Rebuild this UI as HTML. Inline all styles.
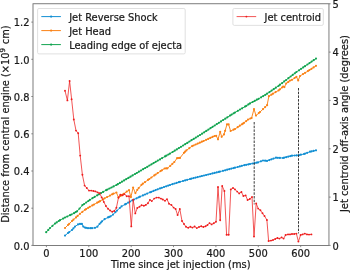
<!DOCTYPE html>
<html><head><meta charset="utf-8"><title>Jet plot</title><style>html,body{margin:0;padding:0;background:#fff}svg{display:block}</style></head><body>
<svg width="350" height="270" viewBox="0 0 350 270" font-family="'DejaVu Sans', 'Liberation Sans', sans-serif" font-size="9.9" fill="#1a1a1a">
<style>text{stroke:#1a1a1a;stroke-width:0.22px;stroke-linejoin:round}</style>
<rect width="350" height="270" fill="#fff"/>
<polyline fill="none" stroke="#128fd3" stroke-width="0.95" stroke-linejoin="round" points="65.0,235.6 68.0,233.0 72.0,230.0 75.0,226.6 78.0,224.4 80.0,223.9 81.9,223.9 83.3,226.6 85.0,227.6 88.0,228.2 92.0,228.2 95.0,227.8 97.4,226.7 99.5,224.0 102.0,221.3 104.6,219.2 108.0,217.4 110.6,216.3 113.0,214.6 115.4,212.2 117.0,210.6 121.5,206.4 125.0,204.4 130.0,201.6 134.0,199.5 140.0,196.7 150.0,192.3 160.0,188.4 170.0,185.0 180.0,181.8 190.0,179.0 200.0,176.5 220.0,171.6 235.0,167.7 244.3,165.2 250.0,164.0 258.0,162.4 263.0,160.5 267.0,160.9 276.0,157.7 283.0,158.0 292.0,155.7 299.0,155.2 304.0,154.0 310.0,151.7 316.0,150.3"/>
<g fill="#128fd3"><circle cx="65.0" cy="235.6" r="1.08"/><circle cx="68.0" cy="233.0" r="1.08"/><circle cx="69.2" cy="232.1" r="1.08"/><circle cx="72.0" cy="230.0" r="1.08"/><circle cx="73.4" cy="228.4" r="1.08"/><circle cx="75.0" cy="226.6" r="1.08"/><circle cx="78.0" cy="224.4" r="1.08"/><circle cx="80.0" cy="223.9" r="1.08"/><circle cx="81.9" cy="223.9" r="1.08"/><circle cx="83.3" cy="226.6" r="1.08"/><circle cx="85.0" cy="227.6" r="1.08"/><circle cx="86.1" cy="227.8" r="1.08"/><circle cx="88.0" cy="228.2" r="1.08"/><circle cx="90.3" cy="228.2" r="1.08"/><circle cx="92.0" cy="228.2" r="1.08"/><circle cx="95.0" cy="227.8" r="1.08"/><circle cx="97.4" cy="226.7" r="1.08"/><circle cx="99.5" cy="224.0" r="1.08"/><circle cx="100.8" cy="222.6" r="1.08"/><circle cx="102.0" cy="221.3" r="1.08"/><circle cx="104.6" cy="219.2" r="1.08"/><circle cx="108.0" cy="217.4" r="1.08"/><circle cx="109.2" cy="216.9" r="1.08"/><circle cx="110.6" cy="216.3" r="1.08"/><circle cx="113.0" cy="214.6" r="1.08"/><circle cx="115.4" cy="212.2" r="1.08"/><circle cx="117.0" cy="210.6" r="1.08"/><circle cx="119.8" cy="208.0" r="1.08"/><circle cx="121.5" cy="206.4" r="1.08"/><circle cx="125.0" cy="204.4" r="1.08"/><circle cx="126.1" cy="203.8" r="1.08"/><circle cx="128.2" cy="202.6" r="1.08"/><circle cx="130.0" cy="201.6" r="1.08"/><circle cx="132.4" cy="200.3" r="1.08"/><circle cx="134.0" cy="199.5" r="1.08"/><circle cx="136.6" cy="198.3" r="1.08"/><circle cx="138.7" cy="197.3" r="1.08"/><circle cx="140.0" cy="196.7" r="1.08"/><circle cx="142.9" cy="195.4" r="1.08"/><circle cx="145.0" cy="194.5" r="1.08"/><circle cx="147.2" cy="193.6" r="1.08"/><circle cx="150.0" cy="192.3" r="1.08"/><circle cx="151.4" cy="191.8" r="1.08"/><circle cx="153.5" cy="190.9" r="1.08"/><circle cx="155.6" cy="190.1" r="1.08"/><circle cx="157.7" cy="189.3" r="1.08"/><circle cx="160.0" cy="188.4" r="1.08"/><circle cx="161.9" cy="187.8" r="1.08"/><circle cx="164.0" cy="187.0" r="1.08"/><circle cx="166.1" cy="186.3" r="1.08"/><circle cx="168.2" cy="185.6" r="1.08"/><circle cx="170.0" cy="185.0" r="1.08"/><circle cx="172.4" cy="184.2" r="1.08"/><circle cx="174.5" cy="183.5" r="1.08"/><circle cx="176.6" cy="182.9" r="1.08"/><circle cx="178.8" cy="182.2" r="1.08"/><circle cx="180.0" cy="181.8" r="1.08"/><circle cx="183.0" cy="181.0" r="1.08"/><circle cx="185.1" cy="180.4" r="1.08"/><circle cx="187.2" cy="179.8" r="1.08"/><circle cx="190.0" cy="179.0" r="1.08"/><circle cx="191.4" cy="178.7" r="1.08"/><circle cx="193.5" cy="178.1" r="1.08"/><circle cx="195.6" cy="177.6" r="1.08"/><circle cx="197.7" cy="177.1" r="1.08"/><circle cx="200.0" cy="176.5" r="1.08"/><circle cx="201.9" cy="176.0" r="1.08"/><circle cx="204.0" cy="175.5" r="1.08"/><circle cx="206.1" cy="175.0" r="1.08"/><circle cx="208.2" cy="174.5" r="1.08"/><circle cx="210.3" cy="174.0" r="1.08"/><circle cx="212.5" cy="173.4" r="1.08"/><circle cx="214.6" cy="172.9" r="1.08"/><circle cx="216.7" cy="172.4" r="1.08"/><circle cx="218.8" cy="171.9" r="1.08"/><circle cx="220.0" cy="171.6" r="1.08"/><circle cx="223.0" cy="170.8" r="1.08"/><circle cx="225.1" cy="170.3" r="1.08"/><circle cx="227.2" cy="169.7" r="1.08"/><circle cx="229.3" cy="169.2" r="1.08"/><circle cx="231.4" cy="168.6" r="1.08"/><circle cx="233.5" cy="168.1" r="1.08"/><circle cx="235.0" cy="167.7" r="1.08"/><circle cx="237.7" cy="167.0" r="1.08"/><circle cx="239.8" cy="166.4" r="1.08"/><circle cx="241.9" cy="165.8" r="1.08"/><circle cx="244.3" cy="165.2" r="1.08"/><circle cx="246.2" cy="164.8" r="1.08"/><circle cx="248.3" cy="164.4" r="1.08"/><circle cx="250.0" cy="164.0" r="1.08"/><circle cx="252.5" cy="163.5" r="1.08"/><circle cx="254.6" cy="163.1" r="1.08"/><circle cx="256.7" cy="162.7" r="1.08"/><circle cx="258.0" cy="162.4" r="1.08"/><circle cx="260.9" cy="161.3" r="1.08"/><circle cx="263.0" cy="160.5" r="1.08"/><circle cx="265.1" cy="160.7" r="1.08"/><circle cx="267.0" cy="160.9" r="1.08"/><circle cx="269.3" cy="160.1" r="1.08"/><circle cx="271.4" cy="159.3" r="1.08"/><circle cx="273.5" cy="158.6" r="1.08"/><circle cx="276.0" cy="157.7" r="1.08"/><circle cx="277.8" cy="157.8" r="1.08"/><circle cx="279.9" cy="157.9" r="1.08"/><circle cx="283.0" cy="158.0" r="1.08"/><circle cx="284.1" cy="157.7" r="1.08"/><circle cx="286.2" cy="157.2" r="1.08"/><circle cx="288.3" cy="156.6" r="1.08"/><circle cx="290.4" cy="156.1" r="1.08"/><circle cx="292.0" cy="155.7" r="1.08"/><circle cx="294.6" cy="155.5" r="1.08"/><circle cx="296.7" cy="155.4" r="1.08"/><circle cx="299.0" cy="155.2" r="1.08"/><circle cx="300.9" cy="154.7" r="1.08"/><circle cx="304.0" cy="154.0" r="1.08"/><circle cx="305.1" cy="153.6" r="1.08"/><circle cx="307.2" cy="152.8" r="1.08"/><circle cx="310.0" cy="151.7" r="1.08"/><circle cx="311.5" cy="151.4" r="1.08"/><circle cx="313.6" cy="150.9" r="1.08"/><circle cx="316.0" cy="150.3" r="1.08"/></g>
<polyline fill="none" stroke="#fa8216" stroke-width="0.95" stroke-linejoin="round" points="65.0,228.0 68.0,225.0 72.0,221.0 76.0,217.4 80.0,213.8 82.4,211.8 85.0,209.8 89.8,206.8 94.0,204.5 97.2,202.7 100.0,201.2 104.6,198.3 110.0,195.6 112.1,194.3 116.4,192.5 118.5,197.6 120.6,196.0 123.5,193.9 126.7,191.6 129.0,190.2 130.9,197.1 133.1,187.5 135.4,193.1 137.3,189.8 141.5,184.8 148.0,179.9 154.3,175.4 160.6,171.1 164.6,168.5 167.4,168.3 170.3,165.8 174.3,162.0 177.1,158.2 180.0,157.9 184.0,152.8 186.4,150.4 192.1,146.1 203.6,141.0 214.5,136.0 216.2,135.8 218.0,139.3 220.2,131.8 221.7,136.8 224.0,134.4 227.0,124.4 228.6,124.4 230.6,131.0 235.0,129.0 243.0,123.6 248.0,119.6 251.6,118.0 254.0,109.0 256.0,115.6 260.0,112.0 267.1,105.2 268.9,96.2 273.0,93.7 278.6,90.4 283.1,86.5 284.4,87.1 286.2,83.5 290.0,80.6 292.0,79.8 296.4,76.8 298.2,80.4 300.0,76.0 307.9,71.1 316.0,65.8"/>
<g fill="#fa8216"><circle cx="65.0" cy="228.0" r="1.08"/><circle cx="68.0" cy="225.0" r="1.08"/><circle cx="69.2" cy="223.8" r="1.08"/><circle cx="72.0" cy="221.0" r="1.08"/><circle cx="73.4" cy="219.7" r="1.08"/><circle cx="76.0" cy="217.4" r="1.08"/><circle cx="77.6" cy="215.9" r="1.08"/><circle cx="80.0" cy="213.8" r="1.08"/><circle cx="82.4" cy="211.8" r="1.08"/><circle cx="85.0" cy="209.8" r="1.08"/><circle cx="86.1" cy="209.1" r="1.08"/><circle cx="88.2" cy="207.8" r="1.08"/><circle cx="89.8" cy="206.8" r="1.08"/><circle cx="92.4" cy="205.4" r="1.08"/><circle cx="94.0" cy="204.5" r="1.08"/><circle cx="97.2" cy="202.7" r="1.08"/><circle cx="98.7" cy="201.9" r="1.08"/><circle cx="100.0" cy="201.2" r="1.08"/><circle cx="102.9" cy="199.4" r="1.08"/><circle cx="104.6" cy="198.3" r="1.08"/><circle cx="107.1" cy="197.0" r="1.08"/><circle cx="110.0" cy="195.6" r="1.08"/><circle cx="112.1" cy="194.3" r="1.08"/><circle cx="113.4" cy="193.7" r="1.08"/><circle cx="116.4" cy="192.5" r="1.08"/><circle cx="118.5" cy="197.6" r="1.08"/><circle cx="120.6" cy="196.0" r="1.08"/><circle cx="121.9" cy="195.1" r="1.08"/><circle cx="123.5" cy="193.9" r="1.08"/><circle cx="126.7" cy="191.6" r="1.08"/><circle cx="129.0" cy="190.2" r="1.08"/><circle cx="130.9" cy="197.1" r="1.08"/><circle cx="133.1" cy="187.5" r="1.08"/><circle cx="135.4" cy="193.1" r="1.08"/><circle cx="137.3" cy="189.8" r="1.08"/><circle cx="138.7" cy="188.1" r="1.08"/><circle cx="141.5" cy="184.8" r="1.08"/><circle cx="142.9" cy="183.7" r="1.08"/><circle cx="145.0" cy="182.1" r="1.08"/><circle cx="148.0" cy="179.9" r="1.08"/><circle cx="149.3" cy="179.0" r="1.08"/><circle cx="151.4" cy="177.5" r="1.08"/><circle cx="154.3" cy="175.4" r="1.08"/><circle cx="155.6" cy="174.5" r="1.08"/><circle cx="157.7" cy="173.1" r="1.08"/><circle cx="160.6" cy="171.1" r="1.08"/><circle cx="161.9" cy="170.3" r="1.08"/><circle cx="164.6" cy="168.5" r="1.08"/><circle cx="166.1" cy="168.4" r="1.08"/><circle cx="167.4" cy="168.3" r="1.08"/><circle cx="170.3" cy="165.8" r="1.08"/><circle cx="172.4" cy="163.8" r="1.08"/><circle cx="174.3" cy="162.0" r="1.08"/><circle cx="177.1" cy="158.2" r="1.08"/><circle cx="178.8" cy="158.0" r="1.08"/><circle cx="180.0" cy="157.9" r="1.08"/><circle cx="184.0" cy="152.8" r="1.08"/><circle cx="185.1" cy="151.7" r="1.08"/><circle cx="186.4" cy="150.4" r="1.08"/><circle cx="189.3" cy="148.2" r="1.08"/><circle cx="192.1" cy="146.1" r="1.08"/><circle cx="193.5" cy="145.5" r="1.08"/><circle cx="195.6" cy="144.5" r="1.08"/><circle cx="197.7" cy="143.6" r="1.08"/><circle cx="199.8" cy="142.7" r="1.08"/><circle cx="201.9" cy="141.7" r="1.08"/><circle cx="203.6" cy="141.0" r="1.08"/><circle cx="206.1" cy="139.8" r="1.08"/><circle cx="208.2" cy="138.9" r="1.08"/><circle cx="210.3" cy="137.9" r="1.08"/><circle cx="212.5" cy="136.9" r="1.08"/><circle cx="214.5" cy="136.0" r="1.08"/><circle cx="216.2" cy="135.8" r="1.08"/><circle cx="218.0" cy="139.3" r="1.08"/><circle cx="220.2" cy="131.8" r="1.08"/><circle cx="221.7" cy="136.8" r="1.08"/><circle cx="224.0" cy="134.4" r="1.08"/><circle cx="225.1" cy="130.8" r="1.08"/><circle cx="227.0" cy="124.4" r="1.08"/><circle cx="228.6" cy="124.4" r="1.08"/><circle cx="230.6" cy="131.0" r="1.08"/><circle cx="233.5" cy="129.7" r="1.08"/><circle cx="235.0" cy="129.0" r="1.08"/><circle cx="237.7" cy="127.2" r="1.08"/><circle cx="239.8" cy="125.7" r="1.08"/><circle cx="241.9" cy="124.3" r="1.08"/><circle cx="243.0" cy="123.6" r="1.08"/><circle cx="244.1" cy="122.8" r="1.08"/><circle cx="246.2" cy="121.1" r="1.08"/><circle cx="248.0" cy="119.6" r="1.08"/><circle cx="250.4" cy="118.5" r="1.08"/><circle cx="251.6" cy="118.0" r="1.08"/><circle cx="254.0" cy="109.0" r="1.08"/><circle cx="256.0" cy="115.6" r="1.08"/><circle cx="258.8" cy="113.1" r="1.08"/><circle cx="260.0" cy="112.0" r="1.08"/><circle cx="263.0" cy="109.1" r="1.08"/><circle cx="265.1" cy="107.1" r="1.08"/><circle cx="267.1" cy="105.2" r="1.08"/><circle cx="268.9" cy="96.2" r="1.08"/><circle cx="271.4" cy="94.7" r="1.08"/><circle cx="273.0" cy="93.7" r="1.08"/><circle cx="275.6" cy="92.1" r="1.08"/><circle cx="278.6" cy="90.4" r="1.08"/><circle cx="279.9" cy="89.3" r="1.08"/><circle cx="282.0" cy="87.5" r="1.08"/><circle cx="283.1" cy="86.5" r="1.08"/><circle cx="284.4" cy="87.1" r="1.08"/><circle cx="286.2" cy="83.5" r="1.08"/><circle cx="288.3" cy="81.9" r="1.08"/><circle cx="290.0" cy="80.6" r="1.08"/><circle cx="292.0" cy="79.8" r="1.08"/><circle cx="294.6" cy="78.0" r="1.08"/><circle cx="296.4" cy="76.8" r="1.08"/><circle cx="298.2" cy="80.4" r="1.08"/><circle cx="300.0" cy="76.0" r="1.08"/><circle cx="303.0" cy="74.1" r="1.08"/><circle cx="305.1" cy="72.8" r="1.08"/><circle cx="307.9" cy="71.1" r="1.08"/><circle cx="309.4" cy="70.1" r="1.08"/><circle cx="311.5" cy="68.8" r="1.08"/><circle cx="313.6" cy="67.4" r="1.08"/><circle cx="316.0" cy="65.8" r="1.08"/></g>
<polyline fill="none" stroke="#12a450" stroke-width="0.95" stroke-linejoin="round" points="46.2,232.2 50.0,228.0 55.0,223.6 60.0,220.2 65.0,217.5 70.0,215.2 74.0,213.2 77.0,211.3 79.5,208.6 82.4,205.2 89.8,199.9 97.2,195.3 106.1,190.2 116.4,185.0 135.0,174.0 165.0,156.4 170.0,153.6 200.0,135.0 230.0,115.6 235.0,112.5 240.0,109.5 245.0,106.6 250.0,103.4 258.6,98.8 267.1,93.7 278.6,85.8 286.1,80.0 296.4,72.0 305.0,66.2 316.0,58.6"/>
<g fill="#12a450"><circle cx="46.2" cy="232.2" r="1.08"/><circle cx="48.3" cy="229.9" r="1.08"/><circle cx="50.0" cy="228.0" r="1.08"/><circle cx="52.5" cy="225.8" r="1.08"/><circle cx="55.0" cy="223.6" r="1.08"/><circle cx="56.7" cy="222.4" r="1.08"/><circle cx="58.8" cy="221.0" r="1.08"/><circle cx="60.0" cy="220.2" r="1.08"/><circle cx="63.1" cy="218.6" r="1.08"/><circle cx="65.0" cy="217.5" r="1.08"/><circle cx="67.3" cy="216.5" r="1.08"/><circle cx="70.0" cy="215.2" r="1.08"/><circle cx="71.5" cy="214.5" r="1.08"/><circle cx="74.0" cy="213.2" r="1.08"/><circle cx="75.7" cy="212.1" r="1.08"/><circle cx="77.0" cy="211.3" r="1.08"/><circle cx="79.5" cy="208.6" r="1.08"/><circle cx="82.4" cy="205.2" r="1.08"/><circle cx="84.1" cy="204.0" r="1.08"/><circle cx="86.2" cy="202.5" r="1.08"/><circle cx="88.3" cy="201.0" r="1.08"/><circle cx="89.8" cy="199.9" r="1.08"/><circle cx="92.5" cy="198.2" r="1.08"/><circle cx="94.6" cy="196.9" r="1.08"/><circle cx="97.2" cy="195.3" r="1.08"/><circle cx="98.9" cy="194.3" r="1.08"/><circle cx="101.0" cy="193.1" r="1.08"/><circle cx="103.1" cy="191.9" r="1.08"/><circle cx="106.1" cy="190.2" r="1.08"/><circle cx="107.3" cy="189.6" r="1.08"/><circle cx="109.4" cy="188.5" r="1.08"/><circle cx="111.5" cy="187.5" r="1.08"/><circle cx="113.6" cy="186.4" r="1.08"/><circle cx="116.4" cy="185.0" r="1.08"/><circle cx="117.8" cy="184.2" r="1.08"/><circle cx="119.9" cy="182.9" r="1.08"/><circle cx="122.0" cy="181.7" r="1.08"/><circle cx="124.1" cy="180.4" r="1.08"/><circle cx="126.2" cy="179.2" r="1.08"/><circle cx="128.4" cy="177.9" r="1.08"/><circle cx="130.5" cy="176.7" r="1.08"/><circle cx="132.6" cy="175.4" r="1.08"/><circle cx="135.0" cy="174.0" r="1.08"/><circle cx="136.8" cy="173.0" r="1.08"/><circle cx="138.9" cy="171.7" r="1.08"/><circle cx="141.0" cy="170.5" r="1.08"/><circle cx="143.1" cy="169.2" r="1.08"/><circle cx="145.2" cy="168.0" r="1.08"/><circle cx="147.3" cy="166.8" r="1.08"/><circle cx="149.4" cy="165.5" r="1.08"/><circle cx="151.5" cy="164.3" r="1.08"/><circle cx="153.6" cy="163.1" r="1.08"/><circle cx="155.7" cy="161.8" r="1.08"/><circle cx="157.8" cy="160.6" r="1.08"/><circle cx="160.0" cy="159.4" r="1.08"/><circle cx="162.1" cy="158.1" r="1.08"/><circle cx="165.0" cy="156.4" r="1.08"/><circle cx="166.3" cy="155.7" r="1.08"/><circle cx="168.4" cy="154.5" r="1.08"/><circle cx="170.0" cy="153.6" r="1.08"/><circle cx="172.6" cy="152.0" r="1.08"/><circle cx="174.7" cy="150.7" r="1.08"/><circle cx="176.8" cy="149.4" r="1.08"/><circle cx="178.9" cy="148.1" r="1.08"/><circle cx="181.0" cy="146.8" r="1.08"/><circle cx="183.1" cy="145.5" r="1.08"/><circle cx="185.2" cy="144.2" r="1.08"/><circle cx="187.3" cy="142.9" r="1.08"/><circle cx="189.4" cy="141.5" r="1.08"/><circle cx="191.5" cy="140.2" r="1.08"/><circle cx="193.7" cy="138.9" r="1.08"/><circle cx="195.8" cy="137.6" r="1.08"/><circle cx="197.9" cy="136.3" r="1.08"/><circle cx="200.0" cy="135.0" r="1.08"/><circle cx="202.1" cy="133.7" r="1.08"/><circle cx="204.2" cy="132.3" r="1.08"/><circle cx="206.3" cy="130.9" r="1.08"/><circle cx="208.4" cy="129.6" r="1.08"/><circle cx="210.5" cy="128.2" r="1.08"/><circle cx="212.6" cy="126.8" r="1.08"/><circle cx="214.7" cy="125.5" r="1.08"/><circle cx="216.8" cy="124.1" r="1.08"/><circle cx="218.9" cy="122.8" r="1.08"/><circle cx="221.0" cy="121.4" r="1.08"/><circle cx="223.1" cy="120.0" r="1.08"/><circle cx="225.3" cy="118.7" r="1.08"/><circle cx="227.4" cy="117.3" r="1.08"/><circle cx="230.0" cy="115.6" r="1.08"/><circle cx="231.6" cy="114.6" r="1.08"/><circle cx="233.7" cy="113.3" r="1.08"/><circle cx="235.0" cy="112.5" r="1.08"/><circle cx="237.9" cy="110.8" r="1.08"/><circle cx="240.0" cy="109.5" r="1.08"/><circle cx="242.1" cy="108.3" r="1.08"/><circle cx="245.0" cy="106.6" r="1.08"/><circle cx="246.3" cy="105.8" r="1.08"/><circle cx="248.4" cy="104.4" r="1.08"/><circle cx="250.0" cy="103.4" r="1.08"/><circle cx="252.6" cy="102.0" r="1.08"/><circle cx="254.7" cy="100.9" r="1.08"/><circle cx="256.8" cy="99.7" r="1.08"/><circle cx="258.6" cy="98.8" r="1.08"/><circle cx="261.1" cy="97.3" r="1.08"/><circle cx="263.2" cy="96.1" r="1.08"/><circle cx="265.3" cy="94.8" r="1.08"/><circle cx="267.1" cy="93.7" r="1.08"/><circle cx="269.5" cy="92.1" r="1.08"/><circle cx="271.6" cy="90.6" r="1.08"/><circle cx="273.7" cy="89.2" r="1.08"/><circle cx="275.8" cy="87.7" r="1.08"/><circle cx="278.6" cy="85.8" r="1.08"/><circle cx="280.0" cy="84.7" r="1.08"/><circle cx="282.1" cy="83.1" r="1.08"/><circle cx="284.2" cy="81.4" r="1.08"/><circle cx="286.1" cy="80.0" r="1.08"/><circle cx="288.4" cy="78.2" r="1.08"/><circle cx="290.6" cy="76.5" r="1.08"/><circle cx="292.7" cy="74.9" r="1.08"/><circle cx="294.8" cy="73.3" r="1.08"/><circle cx="296.4" cy="72.0" r="1.08"/><circle cx="299.0" cy="70.3" r="1.08"/><circle cx="301.1" cy="68.8" r="1.08"/><circle cx="303.2" cy="67.4" r="1.08"/><circle cx="305.0" cy="66.2" r="1.08"/><circle cx="307.4" cy="64.5" r="1.08"/><circle cx="309.5" cy="63.1" r="1.08"/><circle cx="311.6" cy="61.6" r="1.08"/><circle cx="313.7" cy="60.2" r="1.08"/><circle cx="316.0" cy="58.6" r="1.08"/></g>
<g stroke="#222" stroke-width="0.9" stroke-dasharray="2.5 1.2"><line x1="254.2" y1="122" x2="254.2" y2="204.4"/><line x1="298.5" y1="88" x2="298.5" y2="233.4"/></g>
<polyline fill="none" stroke="#ee1c1c" stroke-width="0.75" stroke-linejoin="round" points="65.0,90.8 67.4,100.4 69.6,81.0 71.6,99.2 73.8,119.5 76.0,130.6 78.2,133.2 80.2,155.6 82.4,174.8 84.6,185.6 86.8,188.0 89.0,190.6 91.2,190.6 93.4,191.0 95.4,191.4 97.6,192.4 99.6,193.2 101.7,197.4 103.8,201.9 105.9,206.0 108.0,208.8 110.1,210.5 112.2,211.7 114.3,211.0 116.4,207.8 118.5,197.5 120.3,194.8 122.6,195.3 124.5,194.1 126.7,196.2 129.0,196.2 131.3,226.4 133.2,199.6 135.3,213.4 137.3,208.0 139.5,206.7 141.6,205.2 143.9,205.8 145.8,204.9 147.9,203.3 149.9,199.9 151.8,201.1 154.2,198.6 156.5,197.6 158.8,197.6 160.9,198.6 162.8,199.5 165.0,200.8 167.0,199.2 169.0,203.7 171.4,205.0 173.6,207.6 175.6,209.0 177.6,215.0 179.8,209.0 182.0,221.0 184.0,224.0 186.0,226.8 188.2,227.8 190.4,226.8 192.4,227.6 194.6,226.5 196.8,228.1 199.0,227.0 201.2,226.2 203.4,227.0 205.6,226.2 207.5,225.0 209.5,223.1 211.6,224.4 213.8,223.2 216.0,221.8 218.0,187.0 220.2,220.3 222.2,186.0 224.4,191.0 226.6,234.8 228.7,234.8 230.8,189.4 233.0,188.0 235.0,189.4 237.2,191.6 239.2,193.4 241.4,192.0 243.4,196.0 245.6,195.4 247.6,200.0 249.8,199.0 252.0,197.0 254.0,236.6 256.2,203.4 258.2,208.6 260.4,210.2 262.5,213.3 264.5,216.0 266.9,220.0 268.6,241.0 271.0,240.6 273.0,240.0 275.2,239.0 277.4,238.0 279.4,238.6 281.6,237.4 283.6,238.6 285.6,235.0 288.0,234.4 290.0,234.4 292.0,234.0 294.2,234.0 296.4,233.6 298.4,241.6 300.6,235.0 302.6,234.4 304.8,233.6 307.0,234.4 309.0,234.6 311.4,234.4"/>
<g fill="#ee1c1c"><circle cx="65.0" cy="90.8" r="0.95"/><circle cx="67.4" cy="100.4" r="0.95"/><circle cx="69.6" cy="81.0" r="0.95"/><circle cx="71.6" cy="99.2" r="0.95"/><circle cx="73.8" cy="119.5" r="0.95"/><circle cx="76.0" cy="130.6" r="0.95"/><circle cx="78.2" cy="133.2" r="0.95"/><circle cx="80.2" cy="155.6" r="0.95"/><circle cx="82.4" cy="174.8" r="0.95"/><circle cx="84.6" cy="185.6" r="0.95"/><circle cx="86.8" cy="188.0" r="0.95"/><circle cx="89.0" cy="190.6" r="0.95"/><circle cx="91.2" cy="190.6" r="0.95"/><circle cx="93.4" cy="191.0" r="0.95"/><circle cx="95.4" cy="191.4" r="0.95"/><circle cx="97.6" cy="192.4" r="0.95"/><circle cx="99.6" cy="193.2" r="0.95"/><circle cx="101.7" cy="197.4" r="0.95"/><circle cx="103.8" cy="201.9" r="0.95"/><circle cx="105.9" cy="206.0" r="0.95"/><circle cx="108.0" cy="208.8" r="0.95"/><circle cx="110.1" cy="210.5" r="0.95"/><circle cx="112.2" cy="211.7" r="0.95"/><circle cx="114.3" cy="211.0" r="0.95"/><circle cx="116.4" cy="207.8" r="0.95"/><circle cx="118.5" cy="197.5" r="0.95"/><circle cx="120.3" cy="194.8" r="0.95"/><circle cx="122.6" cy="195.3" r="0.95"/><circle cx="124.5" cy="194.1" r="0.95"/><circle cx="126.7" cy="196.2" r="0.95"/><circle cx="129.0" cy="196.2" r="0.95"/><circle cx="131.3" cy="226.4" r="0.95"/><circle cx="133.2" cy="199.6" r="0.95"/><circle cx="135.3" cy="213.4" r="0.95"/><circle cx="137.3" cy="208.0" r="0.95"/><circle cx="139.5" cy="206.7" r="0.95"/><circle cx="141.6" cy="205.2" r="0.95"/><circle cx="143.9" cy="205.8" r="0.95"/><circle cx="145.8" cy="204.9" r="0.95"/><circle cx="147.9" cy="203.3" r="0.95"/><circle cx="149.9" cy="199.9" r="0.95"/><circle cx="151.8" cy="201.1" r="0.95"/><circle cx="154.2" cy="198.6" r="0.95"/><circle cx="156.5" cy="197.6" r="0.95"/><circle cx="158.8" cy="197.6" r="0.95"/><circle cx="160.9" cy="198.6" r="0.95"/><circle cx="162.8" cy="199.5" r="0.95"/><circle cx="165.0" cy="200.8" r="0.95"/><circle cx="167.0" cy="199.2" r="0.95"/><circle cx="169.0" cy="203.7" r="0.95"/><circle cx="171.4" cy="205.0" r="0.95"/><circle cx="173.6" cy="207.6" r="0.95"/><circle cx="175.6" cy="209.0" r="0.95"/><circle cx="177.6" cy="215.0" r="0.95"/><circle cx="179.8" cy="209.0" r="0.95"/><circle cx="182.0" cy="221.0" r="0.95"/><circle cx="184.0" cy="224.0" r="0.95"/><circle cx="186.0" cy="226.8" r="0.95"/><circle cx="188.2" cy="227.8" r="0.95"/><circle cx="190.4" cy="226.8" r="0.95"/><circle cx="192.4" cy="227.6" r="0.95"/><circle cx="194.6" cy="226.5" r="0.95"/><circle cx="196.8" cy="228.1" r="0.95"/><circle cx="199.0" cy="227.0" r="0.95"/><circle cx="201.2" cy="226.2" r="0.95"/><circle cx="203.4" cy="227.0" r="0.95"/><circle cx="205.6" cy="226.2" r="0.95"/><circle cx="207.5" cy="225.0" r="0.95"/><circle cx="209.5" cy="223.1" r="0.95"/><circle cx="211.6" cy="224.4" r="0.95"/><circle cx="213.8" cy="223.2" r="0.95"/><circle cx="216.0" cy="221.8" r="0.95"/><circle cx="218.0" cy="187.0" r="0.95"/><circle cx="220.2" cy="220.3" r="0.95"/><circle cx="222.2" cy="186.0" r="0.95"/><circle cx="224.4" cy="191.0" r="0.95"/><circle cx="226.6" cy="234.8" r="0.95"/><circle cx="228.7" cy="234.8" r="0.95"/><circle cx="230.8" cy="189.4" r="0.95"/><circle cx="233.0" cy="188.0" r="0.95"/><circle cx="235.0" cy="189.4" r="0.95"/><circle cx="237.2" cy="191.6" r="0.95"/><circle cx="239.2" cy="193.4" r="0.95"/><circle cx="241.4" cy="192.0" r="0.95"/><circle cx="243.4" cy="196.0" r="0.95"/><circle cx="245.6" cy="195.4" r="0.95"/><circle cx="247.6" cy="200.0" r="0.95"/><circle cx="249.8" cy="199.0" r="0.95"/><circle cx="252.0" cy="197.0" r="0.95"/><circle cx="254.0" cy="236.6" r="0.95"/><circle cx="256.2" cy="203.4" r="0.95"/><circle cx="258.2" cy="208.6" r="0.95"/><circle cx="260.4" cy="210.2" r="0.95"/><circle cx="262.5" cy="213.3" r="0.95"/><circle cx="264.5" cy="216.0" r="0.95"/><circle cx="266.9" cy="220.0" r="0.95"/><circle cx="268.6" cy="241.0" r="0.95"/><circle cx="271.0" cy="240.6" r="0.95"/><circle cx="273.0" cy="240.0" r="0.95"/><circle cx="275.2" cy="239.0" r="0.95"/><circle cx="277.4" cy="238.0" r="0.95"/><circle cx="279.4" cy="238.6" r="0.95"/><circle cx="281.6" cy="237.4" r="0.95"/><circle cx="283.6" cy="238.6" r="0.95"/><circle cx="285.6" cy="235.0" r="0.95"/><circle cx="288.0" cy="234.4" r="0.95"/><circle cx="290.0" cy="234.4" r="0.95"/><circle cx="292.0" cy="234.0" r="0.95"/><circle cx="294.2" cy="234.0" r="0.95"/><circle cx="296.4" cy="233.6" r="0.95"/><circle cx="298.4" cy="241.6" r="0.95"/><circle cx="300.6" cy="235.0" r="0.95"/><circle cx="302.6" cy="234.4" r="0.95"/><circle cx="304.8" cy="233.6" r="0.95"/><circle cx="307.0" cy="234.4" r="0.95"/><circle cx="309.0" cy="234.6" r="0.95"/><circle cx="311.4" cy="234.4" r="0.95"/></g>
<rect x="33.0" y="3.75" width="295.95" height="241.7" fill="none" stroke="#6e6e6e" stroke-width="0.9"/>
<g stroke="#6e6e6e" stroke-width="0.8"><line x1="46.4" y1="245.45" x2="46.4" y2="247.14999999999998"/><line x1="88.8" y1="245.45" x2="88.8" y2="247.14999999999998"/><line x1="131.2" y1="245.45" x2="131.2" y2="247.14999999999998"/><line x1="173.5" y1="245.45" x2="173.5" y2="247.14999999999998"/><line x1="215.9" y1="245.45" x2="215.9" y2="247.14999999999998"/><line x1="258.3" y1="245.45" x2="258.3" y2="247.14999999999998"/><line x1="300.7" y1="245.45" x2="300.7" y2="247.14999999999998"/><line x1="31.3" y1="245.4" x2="33.0" y2="245.4"/><line x1="31.3" y1="208.2" x2="33.0" y2="208.2"/><line x1="31.3" y1="171.0" x2="33.0" y2="171.0"/><line x1="31.3" y1="133.8" x2="33.0" y2="133.8"/><line x1="31.3" y1="96.5" x2="33.0" y2="96.5"/><line x1="31.3" y1="59.3" x2="33.0" y2="59.3"/><line x1="31.3" y1="22.1" x2="33.0" y2="22.1"/><line x1="328.95" y1="245.4" x2="330.65" y2="245.4"/><line x1="328.95" y1="197.1" x2="330.65" y2="197.1"/><line x1="328.95" y1="148.8" x2="330.65" y2="148.8"/><line x1="328.95" y1="100.4" x2="330.65" y2="100.4"/><line x1="328.95" y1="52.1" x2="330.65" y2="52.1"/><line x1="328.95" y1="3.8" x2="330.65" y2="3.8"/></g>
<g text-anchor="middle"><text x="46.4" y="257.2">0</text><text x="88.8" y="257.2">100</text><text x="131.2" y="257.2">200</text><text x="173.5" y="257.2">300</text><text x="215.9" y="257.2">400</text><text x="258.3" y="257.2">500</text><text x="300.7" y="257.2">600</text></g>
<g text-anchor="end"><text x="29.5" y="249.6">0.0</text><text x="29.5" y="212.4">0.2</text><text x="29.5" y="175.2">0.4</text><text x="29.5" y="138.0">0.6</text><text x="29.5" y="100.7">0.8</text><text x="29.5" y="63.5">1.0</text><text x="29.5" y="26.3">1.2</text></g>
<g text-anchor="start"><text x="332.4" y="249.5">0</text><text x="332.4" y="201.2">1</text><text x="332.4" y="152.9">2</text><text x="332.4" y="104.5">3</text><text x="332.4" y="56.2">4</text><text x="332.4" y="7.8">5</text></g>
<text x="180.75" y="267.8" text-anchor="middle">Time since jet injection (ms)</text>
<text transform="translate(8.6 124.1) rotate(-90)" text-anchor="middle" font-size="9.8">Distance from central engine (×10<tspan font-size="7.2" dy="-3.5">9</tspan><tspan dy="3.5" dx="0.6"> cm)</tspan></text>
<text transform="translate(348.1 123.6) rotate(-90)" text-anchor="middle">Jet centroid off-axis angle (degrees)</text>
<rect x="37.6" y="8.5" width="147.6" height="45.4" rx="1.4" fill="#fff" fill-opacity="0.8" stroke="#dcdcdc" stroke-width="0.9"/><line x1="41.300000000000004" y1="16.6" x2="60.900000000000006" y2="16.6" stroke="#128fd3" stroke-width="1.0"/><circle cx="51.1" cy="16.6" r="1.1" fill="#128fd3"/><text x="69.2" y="20.700000000000003">Jet Reverse Shock</text><line x1="41.300000000000004" y1="30.6" x2="60.900000000000006" y2="30.6" stroke="#fa8216" stroke-width="1.0"/><circle cx="51.1" cy="30.6" r="1.1" fill="#fa8216"/><text x="69.2" y="34.7">Jet Head</text><line x1="41.300000000000004" y1="44.6" x2="60.900000000000006" y2="44.6" stroke="#12a450" stroke-width="1.0"/><circle cx="51.1" cy="44.6" r="1.1" fill="#12a450"/><text x="69.2" y="48.7">Leading edge of ejecta</text>
<rect x="232.9" y="8.5" width="90.4" height="16.9" rx="1.4" fill="#fff" fill-opacity="0.8" stroke="#dcdcdc" stroke-width="0.9"/><line x1="236.6" y1="16.6" x2="256.2" y2="16.6" stroke="#ee1c1c" stroke-width="0.75"/><circle cx="246.4" cy="16.6" r="0.95" fill="#ee1c1c"/><text x="264.5" y="20.700000000000003">Jet centroid</text>
</svg>
</body></html>
